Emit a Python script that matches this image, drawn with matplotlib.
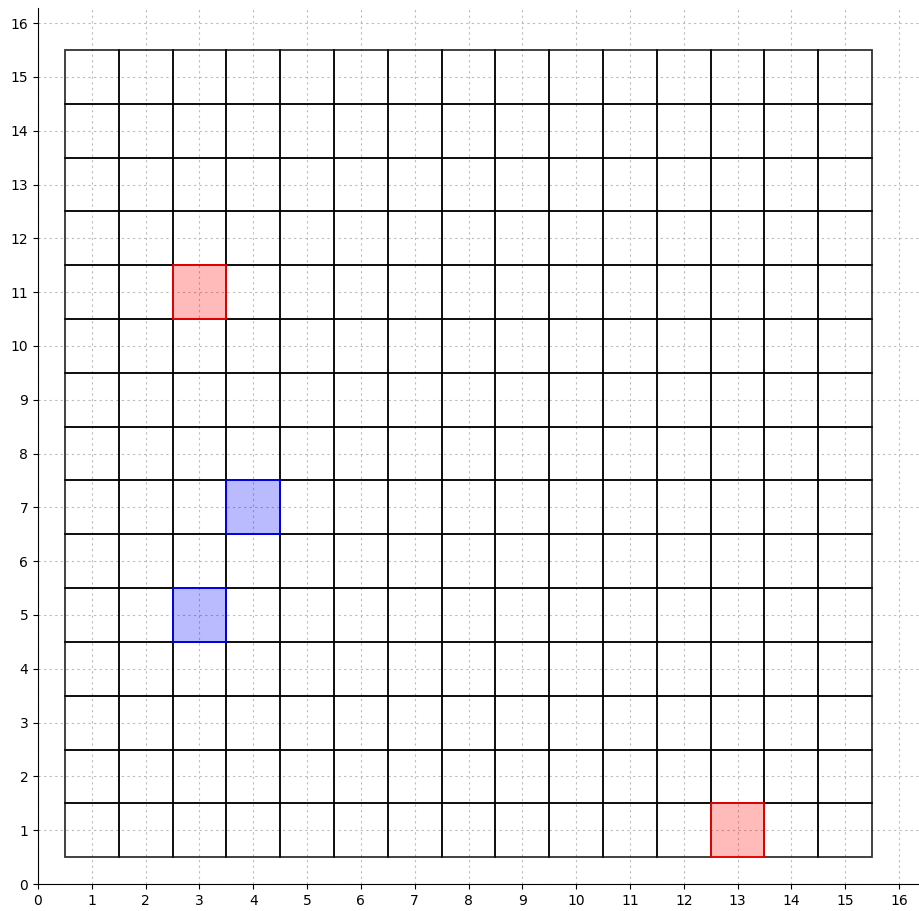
import matplotlib
matplotlib.use("Agg")
import matplotlib.pyplot as plt
from matplotlib.patches import Rectangle

n_cols = 15
n_rows = 15
red_cells_x = [3, 13]
red_cells_y = [11, 1]
blue_cells_x = [4, 3]
blue_cells_y = [7, 5]
ticks = list(range(0, 17))

fig = plt.figure(figsize=(9.2, 9.11), dpi=100)
ax = fig.add_axes([0.0413, 0.0296, 0.9587, 0.9616])

ax.set_xlim(0, 16.39)
ax.set_ylim(0, 16.28)
ax.set_xticks(ticks)
ax.set_yticks(ticks)
ax.grid(True, linestyle=(0, (2, 3)), color="#bbbbbb", linewidth=0.8)
ax.set_axisbelow(True)
for s in ["top", "right"]:
    ax.spines[s].set_visible(False)
ax.tick_params(labelsize=10)

for i in range(1, n_cols + 1):
    for j in range(1, n_rows + 1):
        ax.add_patch(Rectangle((i - 0.5, j - 0.5), 1, 1, facecolor="none",
                               edgecolor="black", linewidth=1.3, alpha=0.8))

for x, y in zip(red_cells_x, red_cells_y):
    ax.add_patch(Rectangle((x - 0.5, y - 0.5), 1, 1, facecolor=(1, 0, 0, 0.27),
                           edgecolor="red", linewidth=1.2))
for x, y in zip(blue_cells_x, blue_cells_y):
    ax.add_patch(Rectangle((x - 0.5, y - 0.5), 1, 1, facecolor=(0, 0, 1, 0.27),
                           edgecolor="blue", linewidth=1.2))

fig.savefig("out.png", dpi=100)
